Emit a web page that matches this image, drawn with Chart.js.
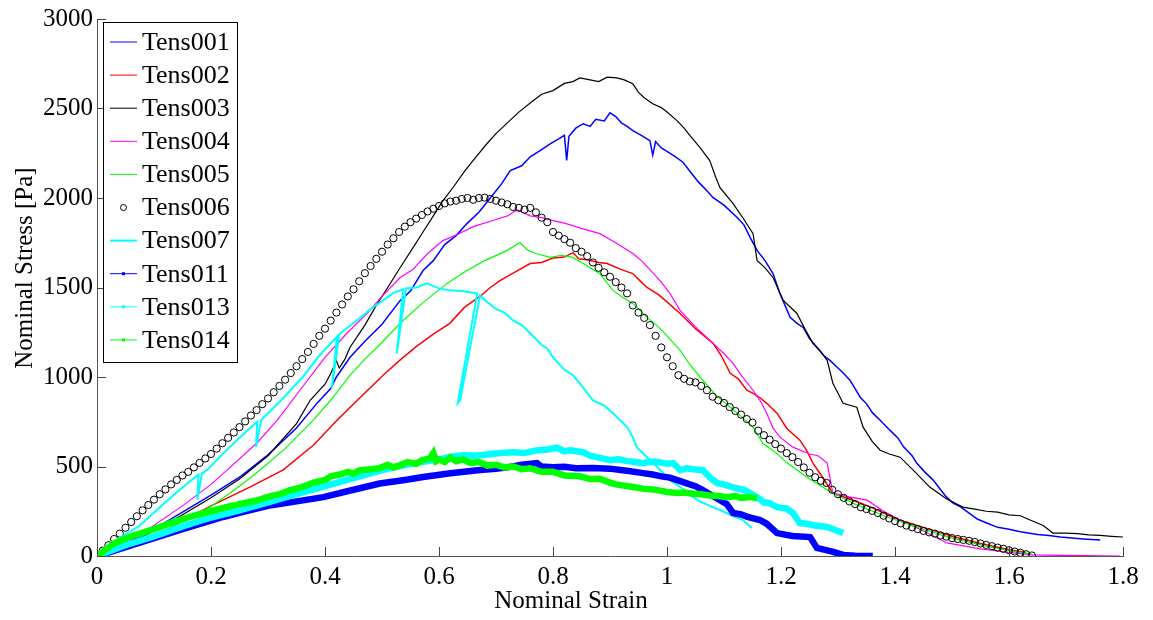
<!DOCTYPE html>
<html>
<head>
<meta charset="utf-8">
<script src="https://cdn.jsdelivr.net/npm/chart.js@4.4.1/dist/chart.umd.min.js"></script>
<style>
html,body{margin:0;padding:0;background:#fff;}
canvas{display:block;}
</style>
</head>
<body>
<canvas id="c" width="1153" height="620"></canvas>
<script>
// ---- data (strain, stress) ----
const seriesNames = ['Tens001','Tens002','Tens003','Tens004','Tens005','Tens006','Tens007','Tens011','Tens013','Tens014'];
const xTickLabels = ['0','0.2','0.4','0.6','0.8','1','1.2','1.4','1.6','1.8'];
const yTickLabels = ['0','500','1000','1500','2000','2500','3000'];

const tens001 = [[0,0],[0.03,40],[0.06,85],[0.1,150],[0.15,245],[0.2,340],[0.25,440],[0.3,565],[0.35,715],[0.386,854],[0.41,935],[0.42,1000],[0.444,1110],[0.47,1200],[0.5,1295],[0.532,1428],[0.55,1480],[0.572,1595],[0.59,1650],[0.61,1740],[0.63,1790],[0.649,1857],[0.67,1920],[0.69,2000],[0.71,2080],[0.725,2153],[0.745,2180],[0.76,2230],[0.78,2270],[0.795,2303],[0.81,2330],[0.82,2350],[0.824,2210],[0.828,2345],[0.84,2390],[0.853,2415],[0.865,2400],[0.875,2440],[0.89,2430],[0.9,2476],[0.91,2455],[0.92,2420],[0.93,2400],[0.94,2376],[0.955,2350],[0.97,2320],[0.975,2240],[0.98,2315],[0.99,2280],[1.0,2260],[1.015,2230],[1.028,2200],[1.045,2130],[1.055,2090],[1.07,2040],[1.081,2002],[1.1,1960],[1.123,1891],[1.135,1850],[1.146,1779],[1.158,1707],[1.172,1650],[1.186,1578],[1.198,1467],[1.216,1333],[1.228,1300],[1.239,1277],[1.25,1215],[1.263,1166],[1.275,1120],[1.286,1093],[1.3,1050],[1.31,1020],[1.321,982],[1.339,887],[1.35,850],[1.361,798],[1.374,758],[1.391,703],[1.405,660],[1.415,610],[1.43,560],[1.438,519],[1.452,470],[1.467,424],[1.48,370],[1.49,330],[1.502,296],[1.515,275],[1.53,240],[1.545,205],[1.561,184],[1.58,160],[1.6,150],[1.62,135],[1.65,120],[1.67,115],[1.69,106],[1.71,100],[1.73,95],[1.76,89]];

const tens002 = [[0,0],[0.05,40],[0.1,100],[0.146,190],[0.2,280],[0.268,385],[0.326,480],[0.38,620],[0.421,758],[0.46,880],[0.502,1010],[0.53,1090],[0.56,1170],[0.59,1240],[0.619,1300],[0.645,1390],[0.672,1450],[0.69,1500],[0.707,1539],[0.73,1580],[0.76,1634],[0.78,1640],[0.8,1665],[0.82,1670],[0.835,1695],[0.845,1660],[0.86,1655],[0.88,1640],[0.895,1634],[0.92,1600],[0.94,1578],[0.955,1530],[0.965,1500],[0.985,1460],[1.0,1420],[1.023,1355],[1.05,1270],[1.081,1188],[1.095,1120],[1.111,1021],[1.125,990],[1.14,926],[1.151,909],[1.165,880],[1.175,853],[1.193,798],[1.21,714],[1.233,647],[1.245,590],[1.256,519],[1.275,430],[1.291,351],[1.31,330],[1.339,296],[1.36,270],[1.38,240],[1.409,200],[1.45,160],[1.5,110],[1.55,70],[1.6,35],[1.63,20]];

const tens003 = [[0,0],[0.05,60],[0.1,140],[0.15,230],[0.2,325],[0.25,430],[0.3,560],[0.35,740],[0.374,870],[0.4,960],[0.41,1020],[0.42,1090],[0.425,1050],[0.435,1100],[0.444,1166],[0.47,1290],[0.49,1400],[0.51,1500],[0.532,1612],[0.55,1700],[0.57,1800],[0.59,1900],[0.607,1985],[0.625,2060],[0.645,2150],[0.665,2230],[0.684,2303],[0.7,2360],[0.72,2420],[0.74,2480],[0.765,2543],[0.78,2580],[0.8,2600],[0.82,2640],[0.835,2650],[0.847,2671],[0.865,2660],[0.88,2650],[0.895,2675],[0.912,2671],[0.925,2660],[0.94,2638],[0.95,2590],[0.96,2560],[0.975,2526],[0.99,2505],[1.0,2480],[1.018,2431],[1.03,2390],[1.04,2350],[1.058,2281],[1.075,2209],[1.085,2120],[1.093,2058],[1.116,1968],[1.135,1880],[1.151,1801],[1.158,1651],[1.172,1610],[1.186,1556],[1.204,1428],[1.228,1355],[1.24,1280],[1.256,1188],[1.27,1140],[1.281,1093],[1.291,965],[1.309,853],[1.333,831],[1.344,720],[1.36,640],[1.374,591],[1.39,570],[1.409,552],[1.435,470],[1.461,385],[1.49,320],[1.519,273],[1.54,262],[1.56,250],[1.58,245],[1.6,230],[1.62,225],[1.637,201],[1.66,170],[1.677,128],[1.7,128],[1.72,125],[1.74,118],[1.76,115],[1.78,110],[1.8,106]];

const tens004 = [[0,0],[0.05,80],[0.088,145],[0.15,280],[0.2,400],[0.228,480],[0.28,630],[0.316,758],[0.356,926],[0.4,1110],[0.44,1250],[0.474,1355],[0.5,1450],[0.532,1556],[0.554,1600],[0.58,1690],[0.607,1762],[0.635,1800],[0.66,1840],[0.7,1880],[0.72,1900],[0.737,1935],[0.76,1900],[0.78,1890],[0.8,1874],[0.82,1860],[0.85,1830],[0.882,1801],[0.91,1750],[0.94,1690],[0.955,1650],[0.97,1600],[0.99,1530],[1.005,1467],[1.023,1372],[1.05,1280],[1.081,1188],[1.1,1130],[1.116,1076],[1.13,1010],[1.151,926],[1.165,860],[1.175,798],[1.186,714],[1.198,664],[1.221,608],[1.25,570],[1.265,560],[1.281,519],[1.291,351],[1.32,330],[1.351,312],[1.38,250],[1.409,201],[1.45,140],[1.491,73],[1.55,40],[1.6,20],[1.642,6],[1.7,3],[1.795,0]];

const tens005 = [[0,0],[0.05,50],[0.1,120],[0.15,190],[0.198,273],[0.25,390],[0.286,480],[0.33,600],[0.379,758],[0.41,870],[0.444,1010],[0.47,1100],[0.496,1180],[0.532,1300],[0.57,1410],[0.614,1523],[0.649,1595],[0.68,1650],[0.719,1706],[0.742,1751],[0.755,1710],[0.77,1690],[0.795,1668],[0.815,1680],[0.835,1668],[0.86,1620],[0.882,1578],[0.905,1484],[0.92,1450],[0.94,1411],[0.965,1333],[0.985,1280],[1.0,1230],[1.023,1149],[1.04,1070],[1.058,1000],[1.085,900],[1.111,831],[1.13,780],[1.151,720],[1.168,630],[1.19,580],[1.211,519],[1.25,430],[1.291,351],[1.33,290],[1.386,218],[1.43,170],[1.5,100],[1.56,55],[1.6,30],[1.64,10]];

const tens006 = [[0,0],[0.01,30],[0.02,60],[0.03,95],[0.04,125],[0.05,158],[0.06,190],[0.07,222],[0.08,255],[0.09,285],[0.1,315],[0.11,345],[0.12,372],[0.13,400],[0.14,425],[0.15,450],[0.16,470],[0.17,495],[0.18,520],[0.19,545],[0.2,570],[0.21,600],[0.22,630],[0.23,660],[0.24,690],[0.25,720],[0.26,752],[0.27,785],[0.28,815],[0.29,848],[0.3,880],[0.31,915],[0.32,950],[0.33,985],[0.34,1022],[0.35,1060],[0.36,1100],[0.37,1140],[0.38,1185],[0.39,1230],[0.4,1270],[0.41,1315],[0.42,1360],[0.43,1405],[0.44,1450],[0.45,1490],[0.46,1535],[0.47,1580],[0.48,1620],[0.49,1660],[0.5,1700],[0.51,1740],[0.52,1775],[0.53,1810],[0.54,1840],[0.55,1865],[0.56,1885],[0.57,1905],[0.58,1925],[0.59,1940],[0.6,1955],[0.61,1970],[0.62,1980],[0.63,1985],[0.64,1995],[0.65,2000],[0.66,1990],[0.67,2000],[0.68,2002],[0.69,1995],[0.7,1985],[0.71,1975],[0.72,1965],[0.73,1950],[0.74,1945],[0.75,1935],[0.76,1945],[0.77,1920],[0.78,1890],[0.79,1865],[0.8,1810],[0.81,1790],[0.82,1770],[0.83,1750],[0.84,1720],[0.85,1700],[0.86,1675],[0.87,1640],[0.88,1610],[0.89,1585],[0.9,1560],[0.91,1530],[0.92,1500],[0.93,1467],[0.94,1400],[0.95,1360],[0.96,1330],[0.97,1290],[0.98,1230],[0.99,1165],[1.0,1110],[1.01,1060],[1.02,1010],[1.03,990],[1.04,975],[1.05,970],[1.06,950],[1.07,926],[1.08,890],[1.09,870],[1.1,855],[1.11,832],[1.12,810],[1.13,790],[1.14,765],[1.15,745],[1.16,700],[1.17,675],[1.18,650],[1.19,625],[1.2,600],[1.21,575],[1.22,552],[1.23,525],[1.24,495],[1.25,465],[1.26,440],[1.27,420],[1.28,408],[1.29,370],[1.3,345],[1.31,325],[1.32,305],[1.33,290],[1.34,272],[1.35,262],[1.36,252],[1.37,240],[1.38,225],[1.39,210],[1.4,195],[1.41,182],[1.42,170],[1.43,160],[1.44,150],[1.45,140],[1.46,132],[1.47,125],[1.48,115],[1.49,108],[1.5,100],[1.51,95],[1.52,90],[1.53,85],[1.54,78],[1.55,70],[1.56,62],[1.57,55],[1.58,47],[1.59,40],[1.6,32],[1.61,25],[1.62,18],[1.63,10],[1.64,3]];

const tens007 = [[0,0],[0.03,80],[0.075,170],[0.12,300],[0.16,410],[0.178,455],[0.176,312],[0.184,460],[0.193,480],[0.23,600],[0.26,690],[0.281,750],[0.279,608],[0.288,760],[0.32,860],[0.361,1000],[0.39,1120],[0.421,1225],[0.412,937],[0.425,1240],[0.456,1316],[0.48,1380],[0.502,1428],[0.52,1470],[0.537,1490],[0.526,1132],[0.542,1495],[0.56,1500],[0.579,1523],[0.6,1495],[0.619,1484],[0.64,1480],[0.667,1467],[0.633,854],[0.637,870],[0.672,1455],[0.68,1430],[0.7,1380],[0.715,1360],[0.73,1316],[0.745,1290],[0.76,1244],[0.78,1180],[0.79,1160],[0.8,1110],[0.82,1040],[0.835,1010],[0.847,965],[0.87,870],[0.89,840],[0.905,798],[0.93,720],[0.94,664],[0.947,608],[0.965,552],[0.985,490],[1.005,424],[1.03,370],[1.053,312],[1.075,280],[1.093,257],[1.115,225],[1.133,201],[1.149,156]];

const tens011 = [[0.01,0],[0.018,17],[0.05,50],[0.1,100],[0.15,150],[0.221,218],[0.26,250],[0.3,280],[0.35,305],[0.397,329],[0.45,370],[0.496,405],[0.54,425],[0.572,441],[0.62,462],[0.672,480],[0.7,488],[0.72,495],[0.745,510],[0.772,519],[0.78,500],[0.8,496],[0.82,498],[0.84,490],[0.87,492],[0.9,488],[0.915,482],[0.93,476],[0.958,463],[0.975,455],[0.99,445],[1.005,438],[1.018,424],[1.04,400],[1.05,390],[1.063,368],[1.075,345],[1.093,312],[1.105,290],[1.116,240],[1.13,232],[1.14,220],[1.163,201],[1.175,180],[1.193,128],[1.22,112],[1.251,106],[1.263,45],[1.29,25],[1.309,6],[1.33,2],[1.361,0]];

const tens013 = [[0,0],[0.05,60],[0.1,110],[0.15,165],[0.2,215],[0.25,255],[0.3,300],[0.35,345],[0.4,390],[0.45,435],[0.5,480],[0.55,515],[0.6,540],[0.62,555],[0.642,563],[0.665,560],[0.69,570],[0.71,575],[0.73,580],[0.75,575],[0.77,590],[0.79,595],[0.807,605],[0.82,585],[0.83,590],[0.853,580],[0.865,560],[0.877,552],[0.9,535],[0.915,540],[0.93,530],[0.945,525],[0.958,519],[0.97,528],[0.985,525],[1.0,515],[1.011,519],[1.023,480],[1.035,490],[1.045,485],[1.063,480],[1.075,440],[1.088,407],[1.1,400],[1.12,380],[1.135,370],[1.146,351],[1.16,325],[1.17,300],[1.18,295],[1.193,273],[1.21,265],[1.221,240],[1.233,184],[1.245,180],[1.26,170],[1.281,162],[1.295,145],[1.309,128]];

const tens014 = [[0,0],[0.03,70],[0.06,110],[0.1,150],[0.13,185],[0.163,218],[0.2,250],[0.23,275],[0.25,290],[0.28,310],[0.3,330],[0.32,345],[0.339,368],[0.36,385],[0.38,410],[0.4,425],[0.41,445],[0.426,455],[0.44,470],[0.45,460],[0.46,478],[0.48,485],[0.496,491],[0.51,510],[0.52,495],[0.53,505],[0.545,525],[0.56,515],[0.57,535],[0.584,545],[0.59,575],[0.595,530],[0.6,540],[0.61,525],[0.62,550],[0.63,530],[0.642,540],[0.655,520],[0.67,525],[0.685,505],[0.7,510],[0.715,495],[0.73,500],[0.745,485],[0.76,490],[0.78,470],[0.8,470],[0.82,450],[0.847,445],[0.865,430],[0.882,432],[0.9,410],[0.91,400],[0.935,388],[0.96,375],[0.975,372],[0.988,365],[1.0,358],[1.018,352],[1.03,355],[1.046,348],[1.06,345],[1.075,338],[1.09,335],[1.105,328],[1.12,335],[1.13,325],[1.145,330],[1.158,322]];

const allSeries = [tens001,tens002,tens003,tens004,tens005,tens006,tens007,tens011,tens013,tens014];
const colors = ['#0000ff','#ff0000','#000000','#ff00ff','#00ff00','#000000','#00ffff','#0000ff','#00ffff','#00ff00'];
const widths = [1.5,1.5,1.2,1.2,1.2,0,2,6.5,6.5,6.5];
const markers = ['line','line','line','line','line','circle','line','linedot','linedot','linedot'];

const FONT = "'Liberation Serif', 'Times New Roman', serif";

const datasets = allSeries.map((s, i) => {
  const isCircle = markers[i] === 'circle';
  return {
    label: seriesNames[i],
    data: s.map(p => ({x: p[0], y: p[1]})),
    borderColor: colors[i],
    backgroundColor: isCircle ? 'rgba(0,0,0,0)' : colors[i],
    borderWidth: isCircle ? 1 : widths[i],
    showLine: !isCircle,
    pointRadius: isCircle ? 3.6 : 0,
    pointStyle: 'circle',
    pointBorderColor: isCircle ? '#000' : colors[i],
    pointBackgroundColor: 'rgba(0,0,0,0)',
    pointBorderWidth: 1,
    tension: 0,
    order: 100 - i
  };
});

const matlabDecor = {
  id: 'matlabDecor',
  afterDraw(chart) {
    const ctx = chart.ctx;
    const a = chart.chartArea;
    const xs = chart.scales.x, ys = chart.scales.y;
    ctx.save();
    // inward ticks
    ctx.strokeStyle = '#444';
    ctx.lineWidth = 1;
    ctx.beginPath();
    xs.ticks.forEach(t => {
      const px = Math.round(xs.getPixelForValue(t.value)) + 0.5;
      ctx.moveTo(px, a.bottom); ctx.lineTo(px, a.bottom - 9);
    });
    ys.ticks.forEach(t => {
      const py = Math.round(ys.getPixelForValue(t.value)) + 0.5;
      ctx.moveTo(a.left, py); ctx.lineTo(a.left + 9, py);
    });
    ctx.stroke();

    // axis titles
    ctx.fillStyle = '#000';
    ctx.font = '25px ' + FONT;
    ctx.textAlign = 'center';
    ctx.textBaseline = 'middle';
    ctx.fillText('Nominal Strain', 571, 601);
    ctx.save();
    ctx.translate(25, 268);
    ctx.rotate(-Math.PI / 2);
    ctx.fillText('Nominal Stress [Pa]', 0, 0);
    ctx.restore();

    // legend box
    const bx = 103.5, by = 22.5, bw = 134, bh = 340;
    ctx.fillStyle = '#fff';
    ctx.fillRect(bx, by, bw, bh);
    ctx.strokeStyle = '#000';
    ctx.lineWidth = 1;
    ctx.strokeRect(bx, by, bw, bh);
    ctx.font = '26px ' + FONT;
    ctx.textAlign = 'left';
    ctx.textBaseline = 'middle';
    seriesNames.forEach((name, i) => {
      const cy = 42 + i * 33.1;
      const m = markers[i];
      if (m === 'circle') {
        ctx.strokeStyle = '#000';
        ctx.lineWidth = 1;
        ctx.beginPath();
        ctx.arc(123.5, cy, 3, 0, Math.PI * 2);
        ctx.stroke();
      } else {
        ctx.strokeStyle = colors[i];
        ctx.lineWidth = (i === 6) ? 2 : 1;
        ctx.beginPath();
        ctx.moveTo(110, cy); ctx.lineTo(137, cy);
        ctx.stroke();
        if (m === 'linedot') {
          ctx.fillStyle = colors[i];
          ctx.fillRect(122, cy - 1.5, 3, 3);
        }
      }
      ctx.fillStyle = '#000';
      ctx.fillText(name, 142, cy + 1);
    });
    ctx.restore();
  }
};

new Chart(document.getElementById('c'), {
  type: 'scatter',
  data: { datasets },
  options: {
    responsive: false,
    animation: false,
    devicePixelRatio: 1,
    layout: { padding: { left: 0, right: 30, top: 18, bottom: 0 } },
    plugins: { legend: { display: false }, tooltip: { enabled: false }, title: { display: false } },
    scales: {
      x: {
        type: 'linear', min: 0, max: 1.8,
        grid: { display: false, drawTicks: false },
        border: { display: true, color: '#555', width: 1 },
        ticks: {
          stepSize: 0.2, padding: 6, color: '#000', maxRotation: 0,
          font: { family: FONT, size: 25 },
          callback: (v) => { const i = Math.round(v / 0.2); return xTickLabels[i] !== undefined ? xTickLabels[i] : ''; }
        },
        afterFit: (s) => { s.height = 64; }
      },
      y: {
        type: 'linear', min: 0, max: 3000,
        grid: { display: false, drawTicks: false },
        border: { display: true, color: '#555', width: 1 },
        ticks: {
          stepSize: 500, padding: 4, color: '#000',
          font: { family: FONT, size: 25 },
          callback: (v) => { const i = Math.round(v / 500); return yTickLabels[i] !== undefined ? yTickLabels[i] : ''; }
        },
        afterFit: (s) => { s.width = 97; }
      }
    }
  },
  plugins: [matlabDecor]
});
</script>
</body>
</html>
